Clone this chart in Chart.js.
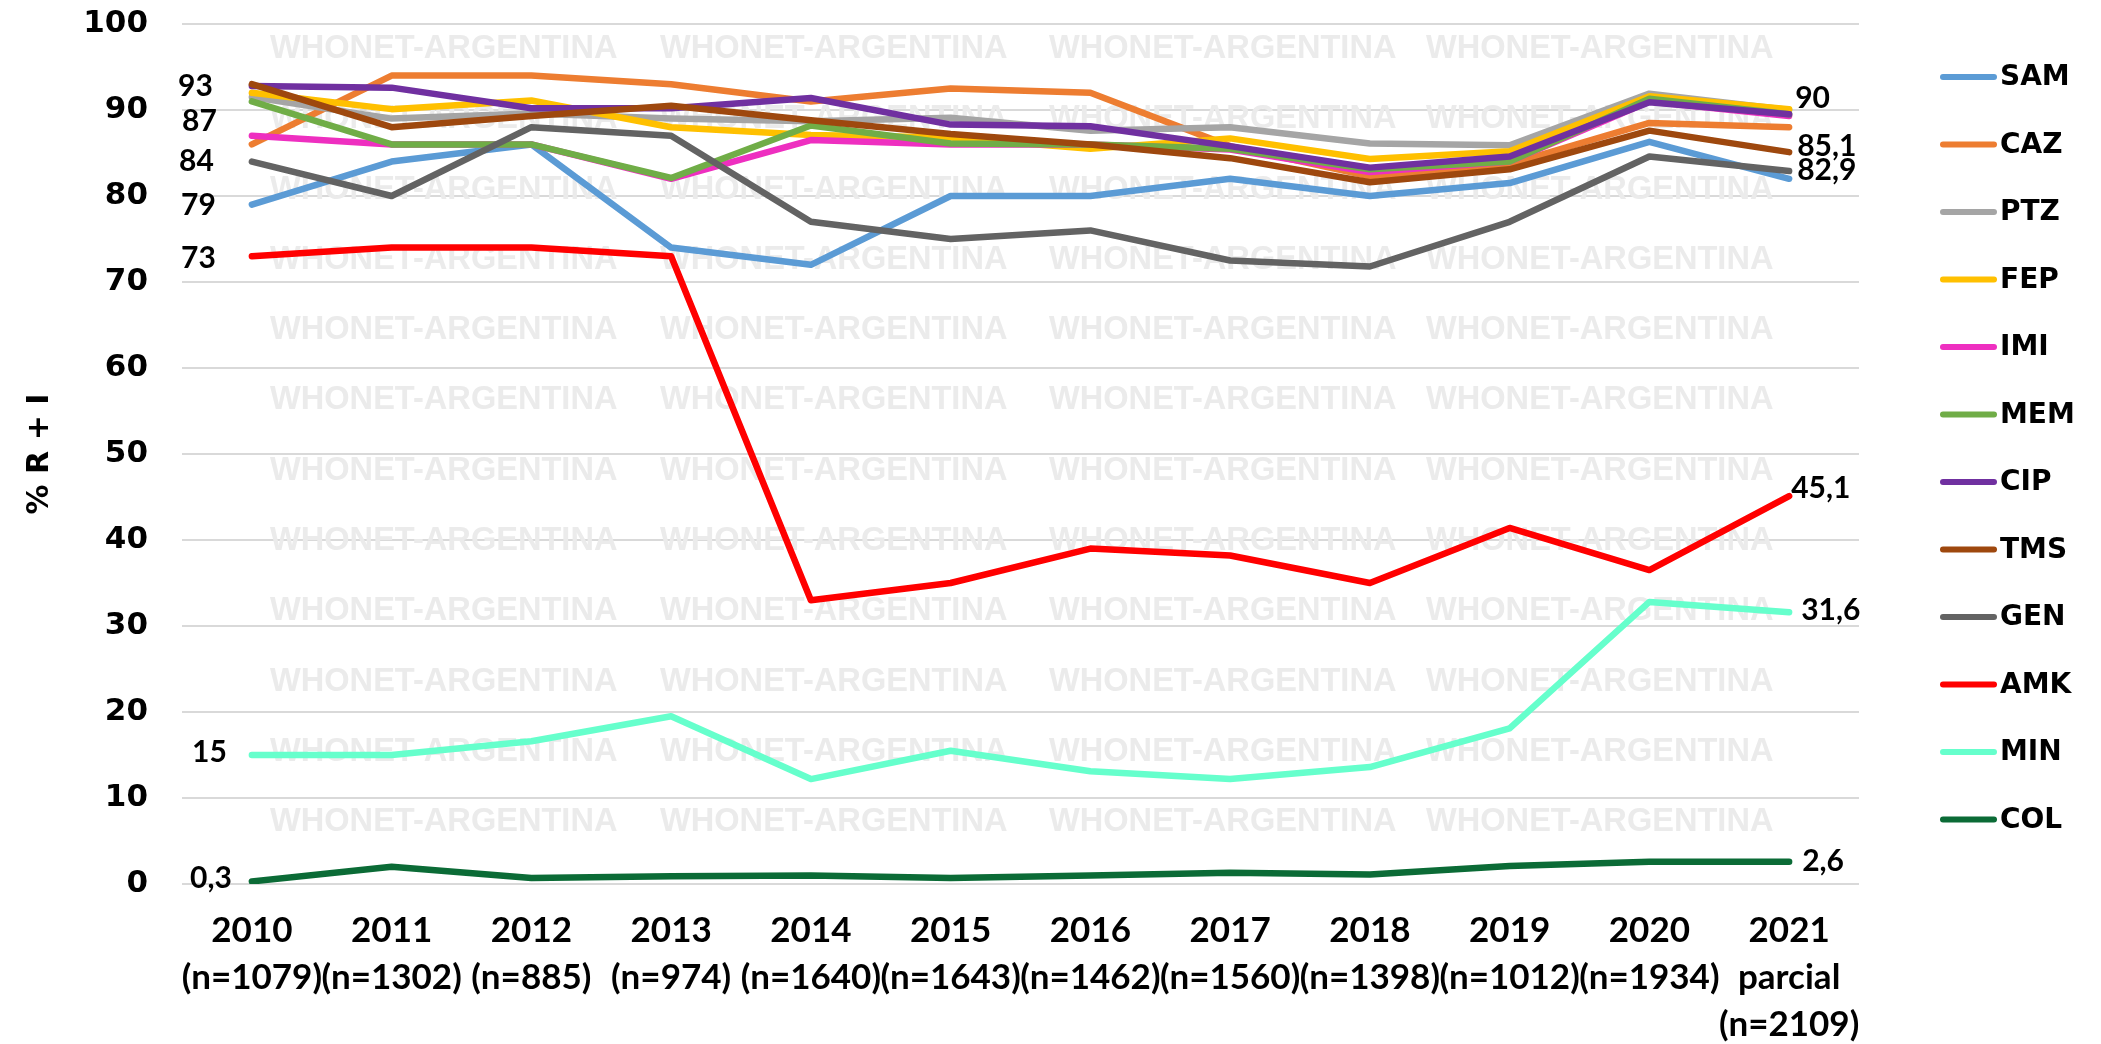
<!DOCTYPE html>
<html>
<head>
<meta charset="utf-8">
<script src="https://cdn.jsdelivr.net/npm/chart.js@4"></script>
<style>
  html, body { margin: 0; padding: 0; background: #ffffff; }
  #wrap { width: 2101px; height: 1044px; }
</style>
</head>
<body>
<div id="wrap"><canvas id="c" width="2101" height="1044"></canvas></div>
<script>
// ---- data ----
const years = ["2010","2011","2012","2013","2014","2015","2016","2017","2018","2019","2020","2021"];
const counts = ["(n=1079)","(n=1302)","(n=885)","(n=974)","(n=1640)","(n=1643)","(n=1462)","(n=1560)","(n=1398)","(n=1012)","(n=1934)","(n=2109)"];
const lastNote = "parcial";

const seriesNames = ["SAM","CAZ","PTZ","FEP","IMI","MEM","CIP","TMS","GEN","AMK","MIN","COL"];

const SAM = [79, 84, 86, 74, 72, 80, 80, 82, 80, 81.5, 86.3, 82];
const CAZ = [86, 94, 94, 93, 91, 92.5, 92, 85.8, 82.3, 83.7, 88.5, 88];
const PTZ = [91.5, 89, 89.6, 89, 88.7, 89.1, 87.6, 88, 86.1, 85.9, 91.9, 90];
const FEP = [92, 90.1, 91.1, 88, 87.1, 86.8, 85.5, 86.7, 84.3, 85.2, 91.6, 90.1];
const IMI = [87, 86, 86, 82, 86.5, 86, 86, 85.4, 82.8, 84, 91, 89.3];
const MEM = [91, 86, 86, 82.1, 88.2, 86.1, 86, 85.5, 83.1, 84, 91.3, 89.5];
const CIP = [92.8, 92.6, 90.2, 90.2, 91.4, 88.3, 88.1, 85.8, 83.3, 84.6, 90.9, 89.5];
const TMS = [93, 88, 89.3, 90.5, 88.8, 87.2, 86, 84.4, 81.6, 83.1, 87.6, 85.1];
const GEN = [84, 80, 88, 87, 77, 75, 76, 72.5, 71.8, 77, 84.6, 82.9];
const AMK = [73, 74, 74, 73, 33, 35, 39, 38.2, 35, 41.4, 36.5, 45.1];
const MIN = [15, 15, 16.6, 19.5, 12.2, 15.5, 13.1, 12.2, 13.6, 18.1, 32.8, 31.6];
const COL = [0.3, 2, 0.7, 0.9, 1, 0.7, 1, 1.3, 1.1, 2.1, 2.6, 2.6];

const seriesValues = [SAM, CAZ, PTZ, FEP, IMI, MEM, CIP, TMS, GEN, AMK, MIN, COL];
const yTicks = [0, 10, 20, 30, 40, 50, 60, 70, 80, 90, 100];

// ---- styles ----
const colors = ["#5B9BD5","#ED7D31","#A5A5A5","#FFC000","#EE2FC0","#70AD47","#7030A0","#9E480E","#636363","#FF0000","#66FFCC","#0B6B36"];

// which values get a data label, and where (style only)
const labelSpecs = [
  {s:"TMS", i:0,  side:"left",  dx:-39, dy:2},
  {s:"IMI", i:0,  side:"left",  dx:-35, dy:-14},
  {s:"GEN", i:0,  side:"left",  dx:-38, dy:0},
  {s:"SAM", i:0,  side:"left",  dx:-36, dy:1},
  {s:"AMK", i:0,  side:"left",  dx:-36, dy:2},
  {s:"MIN", i:0,  side:"left",  dx:-25, dy:-3},
  {s:"COL", i:0,  side:"left",  dx:-20, dy:-3},
  {s:"PTZ", i:11, side:"right", dx:6,   dy:-12},
  {s:"TMS", i:11, side:"right", dx:8,   dy:-6},
  {s:"GEN", i:11, side:"right", dx:8,   dy:-1},
  {s:"AMK", i:11, side:"right", dx:2,   dy:-8},
  {s:"MIN", i:11, side:"right", dx:12,  dy:-2},
  {s:"COL", i:11, side:"right", dx:13,  dy:0}
];

const labels = years.map((y, i) => i === years.length - 1 ? [y, lastNote, counts[i]] : [y, counts[i]]);

const datasets = seriesNames.map((name, i) => ({
  label: name,
  data: seriesValues[i],
  borderColor: colors[i],
  backgroundColor: colors[i],
  borderWidth: 6.5,
  pointRadius: 0,
  pointHoverRadius: 0,
  tension: 0,
  borderCapStyle: 'round',
  borderJoinStyle: 'round',
  fill: false,
  order: seriesNames.length - i
}));

const watermarkPlugin = {
  id: 'watermark',
  beforeDatasetsDraw(chart) {
    const ctx = chart.ctx;
    ctx.save();
    ctx.font = 'bold 32.6px "Liberation Sans", Arial, sans-serif';
    ctx.fillStyle = '#ebebeb';
    ctx.textAlign = 'left';
    ctx.textBaseline = 'middle';
    const cols = [270, 660, 1049, 1426];
    for (let r = 0; r < 12; r++) {
      const y = 49 + r * 70.3;
      cols.forEach(x => ctx.fillText('WHONET-ARGENTINA', x, y));
    }
    ctx.restore();
  }
};

const dataLabelPlugin = {
  id: 'dlabels',
  afterDatasetsDraw(chart) {
    const ctx = chart.ctx;
    ctx.save();
    ctx.font = 'bold 30px Lato, sans-serif';
    ctx.fillStyle = '#000000';
    ctx.textBaseline = 'middle';
    labelSpecs.forEach(sp => {
      const di = seriesNames.indexOf(sp.s);
      const meta = chart.getDatasetMeta(di);
      const pt = meta.data[sp.i];
      const v = chart.data.datasets[di].data[sp.i];
      const txt = String(v).replace('.', ',');
      ctx.textAlign = sp.side === 'left' ? 'right' : 'left';
      ctx.fillText(txt, pt.x + sp.dx, pt.y + sp.dy);
    });
    ctx.restore();
  }
};

const legendPlugin = {
  id: 'customLegend',
  afterDraw(chart) {
    const ctx = chart.ctx;
    ctx.save();
    ctx.font = 'bold 28px "DejaVu Sans", Verdana, sans-serif';
    ctx.textAlign = 'left';
    ctx.textBaseline = 'middle';
    chart.data.datasets.forEach((ds, i) => {
      const y = 77 + i * 67.5;
      ctx.strokeStyle = ds.borderColor;
      ctx.lineWidth = 6;
      ctx.lineCap = 'round';
      ctx.beginPath();
      ctx.moveTo(1943, y);
      ctx.lineTo(1994, y);
      ctx.stroke();
      ctx.fillStyle = '#000000';
      ctx.fillText(ds.label, 2000, y + 1);
    });
    ctx.restore();
  }
};

new Chart(document.getElementById('c'), {
  type: 'line',
  data: { labels: labels, datasets: datasets },
  plugins: [watermarkPlugin, dataLabelPlugin, legendPlugin],
  options: {
    responsive: false,
    devicePixelRatio: 1,
    animation: false,
    layout: { padding: { top: 24, right: 242, bottom: 0, left: 0 } },
    plugins: {
      legend: { display: false },
      tooltip: { enabled: false },
      title: { display: false }
    },
    scales: {
      x: {
        offset: true,
        grid: { display: false, drawTicks: false },
        border: { display: false },
        ticks: {
          autoSkip: false,
          maxRotation: 0,
          minRotation: 0,
          padding: 23,
          color: '#000000',
          font: { family: 'Lato, sans-serif', weight: 'bold', size: 35, lineHeight: 1.34 }
        },
        afterFit(scale) { scale.height = 160; }
      },
      y: {
        min: 0,
        max: 100,
        afterBuildTicks(scale) { scale.ticks = yTicks.map(v => ({ value: v })); },
        grid: { color: '#d9d9d9', lineWidth: 2, drawTicks: false },
        border: { display: false },
        ticks: {
          padding: 34,
          color: '#000000',
          font: { family: '"DejaVu Sans", Verdana, sans-serif', weight: 'bold', size: 31 }
        },
        title: {
          display: true,
          text: '% R + I',
          color: '#000000',
          padding: { top: 22, bottom: 0 },
          font: { family: '"DejaVu Sans", Verdana, sans-serif', weight: 'bold', size: 30 }
        },
        afterFit(scale) {
          scale.width = 182;
          scale.paddingTop = 0;
          scale.paddingBottom = 0;
        }
      }
    }
  }
});
</script>
</body>
</html>
